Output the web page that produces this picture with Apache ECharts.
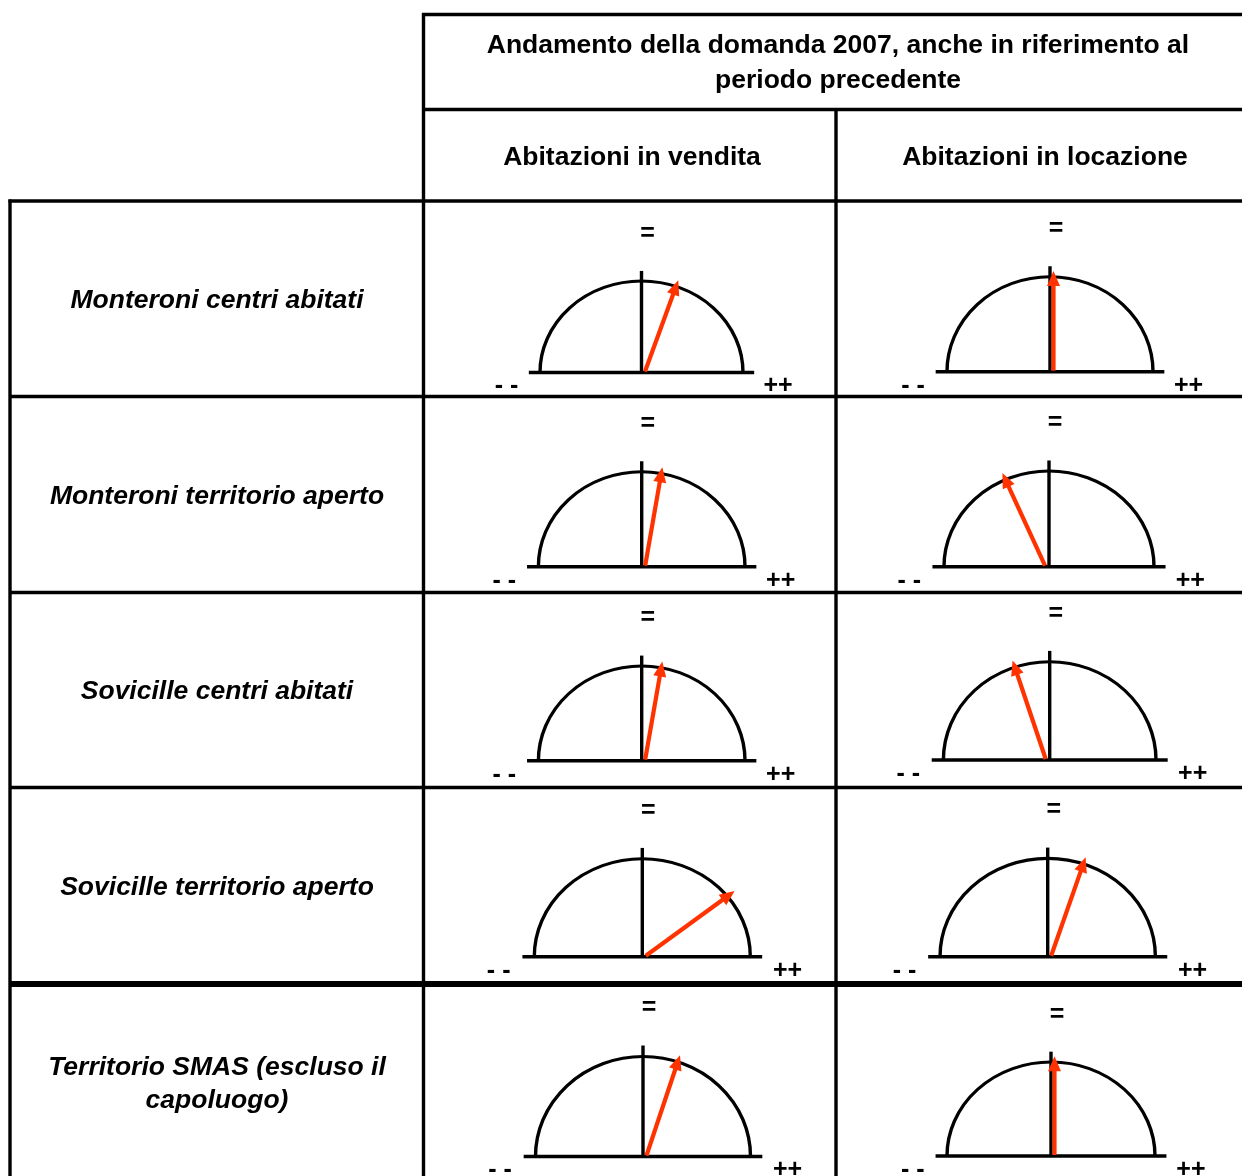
<!DOCTYPE html>
<html>
<head>
<meta charset="utf-8">
<title>Andamento della domanda 2007</title>
<script src="https://cdn.jsdelivr.net/npm/echarts@6/dist/echarts.min.js"></script>
<style>
html, body { margin: 0; padding: 0; background: #fff; }
#main { width: 1242px; height: 1176px; }
</style>
</head>
<body>
<div id="main"></div>
<script>
// intestazioni della tabella
var titolo = 'Andamento della domanda 2007, anche in riferimento al\nperiodo precedente';
var colonne = ['Abitazioni in vendita', 'Abitazioni in locazione'];
var righe = [
    'Monteroni centri abitati',
    'Monteroni territorio aperto',
    'Sovicille centri abitati',
    'Sovicille territorio aperto',
    'Territorio SMAS (escluso il\ncapoluogo)'
];
// etichette del quadrante
var tacche = ['- -', '=', '++'];
// andamento: scala da -2 ("- -") a +2 ("++"), 0 = "="
var vendita = [0.40, 0.20, 0.20, 1.13, 0.38];
var locazione = [0.00, -0.50, -0.38, 0.39, 0.00];

// posizione dei quadranti: centro x, base y, raggio x, raggio y
var posVendita = [
    [641.5, 372.5, 101.5, 91.5],
    [641.7, 566.7, 103.3, 95],
    [641.7, 760.7, 103.3, 94.7],
    [642.3, 956.7, 108, 98],
    [643, 1156.5, 107.5, 100]
];
var posLocazione = [
    [1050, 371.7, 103, 95],
    [1049, 566.7, 105, 95.7],
    [1049.7, 760, 106.3, 98.3],
    [1047.7, 956.7, 107.7, 98.3],
    [1051, 1156, 104, 94]
];
var centriRighe = [301, 497, 692, 888, 1084];

var FONT = '"Liberation Sans", Arial, sans-serif';
var ROSSO = '#ff3300';

var myChart = echarts.init(document.getElementById('main'));

function disegnaQuadrante(params, api) {
    var v = api.value(0);
    var c = api.coord([0, 0]);
    var rx = api.coord([1, 0])[0] - c[0];
    var ry = c[1] - api.coord([0, 1])[1];
    var sx = api.coord([-1.11, 0]);
    var dx = api.coord([1.11, 0]);
    var cima = api.coord([0, 1.11]);
    // freccia, spostata un poco dal lato in cui punta
    var sp = v >= 0 ? 3.5 : -4;
    var th = Math.PI / 2 - v * Math.PI / 4;
    var p = api.coord([1.06 * Math.cos(th), 1.06 * Math.sin(th)]);
    var punta = [p[0] + sp, p[1]];
    var coda = [c[0] + sp, c[1] - 1];
    var ddx = punta[0] - coda[0], ddy = punta[1] - coda[1];
    var len = Math.sqrt(ddx * ddx + ddy * ddy);
    var ux = ddx / len, uy = ddy / len;
    var hl = 15, hw = 6.5;
    var bx = punta[0] - ux * hl, by = punta[1] - uy * hl;
    var meno = api.coord([-1.33, 0]);
    var piu = api.coord([1.345, 0]);
    var nero = { stroke: '#000', lineWidth: 3.4 };

    return {
        type: 'group',
        children: [
            {
                type: 'arc',
                shape: { cx: c[0], cy: c[1], r: rx, startAngle: Math.PI, endAngle: 2 * Math.PI, clockwise: true },
                originX: c[0], originY: c[1], scaleY: ry / rx,
                style: { stroke: '#000', lineWidth: 3.4, fill: null, strokeNoScale: true }
            },
            { type: 'line', shape: { x1: sx[0], y1: sx[1], x2: dx[0], y2: dx[1] }, style: nero },
            { type: 'line', shape: { x1: c[0], y1: c[1], x2: cima[0], y2: cima[1] }, style: nero },
            {
                type: 'line',
                shape: { x1: coda[0], y1: coda[1], x2: bx + ux * 2, y2: by + uy * 2 },
                style: { stroke: ROSSO, lineWidth: 4.2 }
            },
            {
                type: 'polygon',
                shape: { points: [punta, [bx - uy * hw, by + ux * hw], [bx + uy * hw, by - ux * hw]] },
                style: { fill: ROSSO }
            },
            {
                type: 'text', x: meno[0], y: meno[1] + 14,
                style: { text: tacche[0], font: 'bold 25px ' + FONT, fill: '#000', align: 'center', verticalAlign: 'middle' }
            },
            {
                type: 'text', x: cima[0] + 6, y: cima[1] - 37,
                style: { text: tacche[1], font: 'bold 25px ' + FONT, fill: '#000', align: 'center', verticalAlign: 'middle' }
            },
            {
                type: 'text', x: piu[0], y: piu[1] + 14,
                style: { text: tacche[2], font: 'bold 25px ' + FONT, fill: '#000', align: 'center', verticalAlign: 'middle' }
            }
        ]
    };
}

var grids = [], xAxes = [], yAxes = [], series = [];
[vendita, locazione].forEach(function (valori, col) {
    var pos = col === 0 ? posVendita : posLocazione;
    valori.forEach(function (val, i) {
        var p = pos[i];
        var k = grids.length;
        grids.push({ left: p[0] - p[2], top: p[1] - p[3], width: 2 * p[2], height: p[3] });
        xAxes.push({ gridIndex: k, type: 'value', min: -1, max: 1, show: false });
        yAxes.push({ gridIndex: k, type: 'value', min: 0, max: 1, show: false });
        series.push({
            name: colonne[col] + ' - ' + righe[i],
            type: 'custom',
            xAxisIndex: k,
            yAxisIndex: k,
            clip: false,
            silent: true,
            renderItem: disegnaQuadrante,
            data: [[val]]
        });
    });
});

// linee della tabella
function linea(x1, y1, x2, y2, w) {
    return { type: 'line', shape: { x1: x1, y1: y1, x2: x2, y2: y2 }, style: { stroke: '#000', lineWidth: w || 3.4 }, silent: true };
}
function testo(t, x, y, font, lh) {
    return {
        type: 'text', x: x, y: y, silent: true,
        style: { text: t, font: font, fill: '#000', align: 'center', verticalAlign: 'middle', lineHeight: lh || 33 }
    };
}

var grafica = [
    linea(422, 14.5, 1242, 14.5),
    linea(423.5, 13, 423.5, 1176),
    linea(423, 109.5, 1242, 109.5),
    linea(836, 109, 836, 1176),
    linea(8.5, 201, 1242, 201),
    linea(10, 199.5, 10, 1176),
    linea(10, 396.5, 1242, 396.5),
    linea(10, 592.5, 1242, 592.5),
    linea(10, 787.5, 1242, 787.5),
    linea(10, 984, 1242, 984, 6),
    testo(titolo, 838, 63, 'bold 26.5px ' + FONT, 35),
    testo(colonne[0], 632, 158, 'bold 26.5px ' + FONT),
    testo(colonne[1], 1045, 158, 'bold 26.5px ' + FONT)
];
righe.forEach(function (r, i) {
    grafica.push(testo(r, 217, centriRighe[i], 'italic bold 26.5px ' + FONT, 33));
});

myChart.setOption({
    backgroundColor: '#fff',
    animation: false,
    grid: grids,
    xAxis: xAxes,
    yAxis: yAxes,
    series: series,
    graphic: grafica
});
</script>
</body>
</html>
